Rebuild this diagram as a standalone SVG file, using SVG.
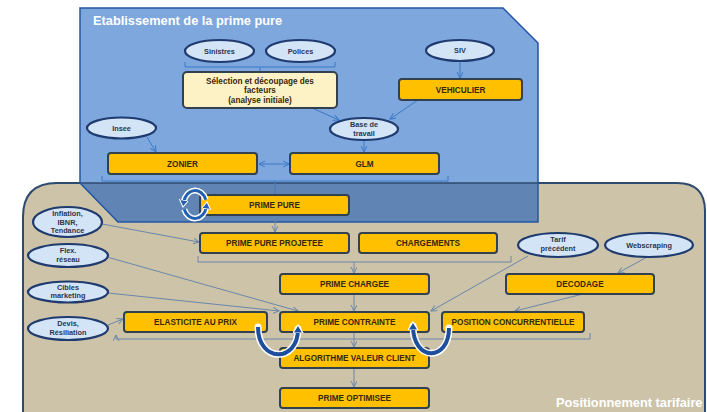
<svg xmlns="http://www.w3.org/2000/svg" width="707" height="412" viewBox="0 0 707 412">
<defs>
<style>
.box{fill:#FFC000;stroke:#33404F;stroke-width:2}
.sel{fill:#FDF1C6;stroke:#33404F;stroke-width:2}
.ell{fill:#D4E4F7;stroke:#1F3A6E;stroke-width:2.2}
.bt{font-family:"Liberation Sans",Arial,sans-serif;font-weight:bold;font-size:8.2px;fill:#35280C;text-anchor:middle}
.et{font-family:"Liberation Sans",Arial,sans-serif;font-weight:bold;font-size:7.3px;fill:#2A3550;text-anchor:middle}
.title{font-family:"Liberation Sans",Arial,sans-serif;font-weight:bold;font-size:12.8px;fill:#FFFFFF}
.cb{fill:none;stroke:#3C78C8;stroke-width:1}
.ct{fill:none;stroke:#6A87AA;stroke-width:1}
.uw{fill:none;stroke:#FFFFFF;stroke-width:7;stroke-linecap:round}
.ub{fill:none;stroke:#1E4F9C;stroke-width:4}
</style>
<marker id="ab" markerWidth="8" markerHeight="8" refX="6" refY="3" orient="auto-start-reverse" markerUnits="userSpaceOnUse"><path d="M0,0 L6,3 L0,6" fill="none" stroke="#3C78C8" stroke-width="1"/></marker>
<marker id="at" markerWidth="8" markerHeight="8" refX="6" refY="3" orient="auto-start-reverse" markerUnits="userSpaceOnUse"><path d="M0,0 L6,3 L0,6" fill="none" stroke="#6A87AA" stroke-width="1"/></marker>
<marker id="au" markerWidth="14" markerHeight="14" refX="4" refY="5" orient="auto" markerUnits="userSpaceOnUse"><path d="M0,0 L8,5 L0,10 Z" fill="#1E4F9C" stroke="#FFFFFF" stroke-width="1.2"/></marker>
<marker id="ai" markerWidth="12" markerHeight="12" refX="2" refY="4.5" orient="auto" markerUnits="userSpaceOnUse"><path d="M0,0 L7,4.5 L0,9 Z" fill="#2260B0" stroke="#FFFFFF" stroke-width="1"/></marker>
</defs>

<g id="panels">
<path d="M23,420 L23,217 Q23,183 57,183 L677,183 Q705,183 705,211 L705,420 Z" fill="#CCC3A9" stroke="#2E4A6E" stroke-width="2"/>
<polygon points="80,8 503,8 538,43 538,222 118,222 80,183" fill="#7DA7DD"/>
<polygon points="80,183 538,183 538,222 118,222" fill="#6085B5"/>
<line x1="80" y1="183" x2="538" y2="183" stroke="#2E4A6E" stroke-width="1.5"/>
<polygon points="80,8 503,8 538,43 538,222 118,222 80,183" fill="none" stroke="#2455A0" stroke-width="1.5"/>
<text class="title" x="93" y="25">Etablissement de la prime pure</text>
<text class="title" x="556" y="407">Positionnement tarifaire</text>
</g>

<g id="connectors">
<path class="cb" d="M185,62 L185,67 L335,67 L335,62 M260,67 L260,72"/>
<path class="cb" d="M460,61 L460,78" marker-end="url(#ab)"/>
<path class="cb" d="M418,100 L390,119" marker-end="url(#ab)"/>
<path class="cb" d="M312,108 L339,120" marker-end="url(#ab)"/>
<path class="cb" d="M364,140 L364,152" marker-end="url(#ab)"/>
<path class="cb" d="M147,137 L156,152" marker-end="url(#ab)"/>
<path class="cb" d="M259,164 L289,164" marker-start="url(#ab)" marker-end="url(#ab)"/>
<path class="cb" d="M102,176 L102,181 L448,181 L448,176 M275,181 L275,195"/>
<path class="ct" d="M275,215 L275,232" marker-end="url(#at)"/>
<path class="ct" d="M102,224 L199,242" marker-end="url(#at)"/>
<path class="ct" d="M198,256 L198,262 L511,262 L511,256"/>
<path class="ct" d="M354,262 L354,273" marker-end="url(#at)"/>
<path class="ct" d="M354,294 L354,311" marker-end="url(#at)"/>
<path class="ct" d="M107,257 L298,311" marker-end="url(#at)"/>
<path class="ct" d="M108,293 L279,311" marker-end="url(#at)"/>
<path class="ct" d="M108,325 L123,319" marker-end="url(#at)"/>
<path class="ct" d="M528,256 L431,311" marker-end="url(#at)"/>
<path class="ct" d="M647,257 L618,273" marker-end="url(#at)"/>
<path class="ct" d="M583,294 L515,311" marker-end="url(#at)"/>
<path class="ct" d="M116,339 L590,339 L590,333"/>
<path class="ct" d="M116,339 L116,335" marker-end="url(#at)"/>
<path class="ct" d="M354,332 L354,347" marker-end="url(#at)"/>
<path class="ct" d="M354,368 L354,387" marker-end="url(#at)"/>
</g>

<g id="sinistres"><ellipse class="ell" cx="219.5" cy="51" rx="34.5" ry="11"/><text class="et" x="219.5" y="53.6">Sinistres</text></g>
<g id="polices"><ellipse class="ell" cx="300.5" cy="51" rx="34.5" ry="11"/><text class="et" x="300.5" y="53.6">Polices</text></g>
<g id="selection"><rect class="sel" x="183" y="72" width="154" height="36" rx="4"/>
<text class="bt" x="260" y="83.5">Sélection et découpage des</text>
<text class="bt" x="260" y="93">facteurs</text>
<text class="bt" x="260" y="102.5">(analyse initiale)</text></g>
<g id="siv"><ellipse class="ell" cx="460" cy="50.5" rx="34" ry="10.5"/><text class="et" x="460" y="53.1">SIV</text></g>
<g id="vehiculier"><rect class="box" x="399" y="79" width="123" height="21" rx="3"/><text class="bt" x="460.5" y="92.5">VEHICULIER</text></g>
<g id="insee"><ellipse class="ell" cx="121.5" cy="128" rx="34.5" ry="10.5"/><text class="et" x="121.5" y="130.6">Insee</text></g>
<g id="base"><ellipse class="ell" cx="364" cy="129" rx="34" ry="11"/><text class="et" x="364" y="127">Base de</text><text class="et" x="364" y="135.5">travail</text></g>
<g id="zonier"><rect class="box" x="108" y="153" width="149" height="21" rx="3"/><text class="bt" x="182.5" y="166.5">ZONIER</text></g>
<g id="glm"><rect class="box" x="290" y="153" width="149" height="21" rx="3"/><text class="bt" x="364.5" y="166.5">GLM</text></g>
<g id="prime-pure"><rect class="box" x="200" y="195" width="149" height="20" rx="3"/><text class="bt" x="274.5" y="208">PRIME PURE</text>
<g id="cycle">
<path d="M205.8,199.7 A11.5,14 0 0,0 183.7,202.1" fill="none" stroke="#FFFFFF" stroke-width="6"/>
<path d="M184.2,209.3 A11.5,14 0 0,0 206.3,206.9" fill="none" stroke="#FFFFFF" stroke-width="6"/>
<path d="M205.8,199.7 A11.5,14 0 0,0 183.7,202.1" fill="none" stroke="#2260B0" stroke-width="3" marker-end="url(#ai)"/>
<path d="M184.2,209.3 A11.5,14 0 0,0 206.3,206.9" fill="none" stroke="#2260B0" stroke-width="3" marker-end="url(#ai)"/>
</g></g>
<g id="inflation"><ellipse class="ell" cx="67.5" cy="222" rx="34.5" ry="15"/><text class="et" x="67.5" y="216">Inflation,</text><text class="et" x="67.5" y="224.5">IBNR,</text><text class="et" x="67.5" y="233">Tendance</text></g>
<g id="ppp"><rect class="box" x="200" y="233" width="149" height="20" rx="3"/><text class="bt" x="274.5" y="246">PRIME PURE PROJETEE</text></g>
<g id="chargements"><rect class="box" x="359" y="233" width="138" height="20" rx="3"/><text class="bt" x="428" y="246">CHARGEMENTS</text></g>
<g id="tarif"><ellipse class="ell" cx="558" cy="245" rx="40" ry="12"/><text class="et" x="558" y="242">Tarif</text><text class="et" x="558" y="251">précédent</text></g>
<g id="webscraping"><ellipse class="ell" cx="649" cy="245" rx="44" ry="12"/><text class="et" x="649" y="247.6">Webscraping</text></g>
<g id="flex"><ellipse class="ell" cx="68" cy="255.5" rx="40" ry="11.5"/><text class="et" x="68" y="253">Flex.</text><text class="et" x="68" y="262">réseau</text></g>
<g id="prime-chargee"><rect class="box" x="280" y="274" width="149" height="20" rx="3"/><text class="bt" x="354.5" y="287">PRIME CHARGEE</text></g>
<g id="decodage"><rect class="box" x="506" y="274" width="148" height="20" rx="3"/><text class="bt" x="580" y="287">DECODAGE</text></g>
<g id="cibles"><ellipse class="ell" cx="68" cy="292" rx="40" ry="10.5"/><text class="et" x="68" y="289.5">Cibles</text><text class="et" x="68" y="298">marketing</text></g>
<g id="devis"><ellipse class="ell" cx="68" cy="328.5" rx="40" ry="11.5"/><text class="et" x="68" y="326">Devis,</text><text class="et" x="68" y="335">Résiliation</text></g>
<g id="elasticite"><rect class="box" x="124" y="312" width="143" height="20" rx="3"/><text class="bt" x="195.5" y="325">ELASTICITE AU PRIX</text></g>
<g id="prime-contrainte"><rect class="box" x="280" y="312" width="149" height="20" rx="3"/><text class="bt" x="354.5" y="325">PRIME CONTRAINTE</text></g>
<g id="position"><rect class="box" x="442" y="312" width="142" height="20" rx="3"/><text class="bt" x="513" y="325">POSITION CONCURRENTIELLE</text></g>
<g id="algorithme"><rect class="box" x="280" y="348" width="149" height="20" rx="3"/><text class="bt" x="354.5" y="361">ALGORITHME VALEUR  CLIENT</text></g>
<g id="prime-optimisee"><rect class="box" x="280" y="388" width="149" height="20" rx="3"/><text class="bt" x="354.5" y="401">PRIME OPTIMISEE</text></g>

<g id="loops">
<path class="uw" d="M258,327 C258,363 298,363 298,329"/>
<path class="ub" d="M258,327 C258,363 298,363 298,329" marker-end="url(#au)"/>
<path class="uw" d="M449,328 C449,362 413,362 413,326"/>
<path class="ub" d="M449,328 C449,362 413,362 413,326" marker-end="url(#au)"/>
</g>
</svg>
